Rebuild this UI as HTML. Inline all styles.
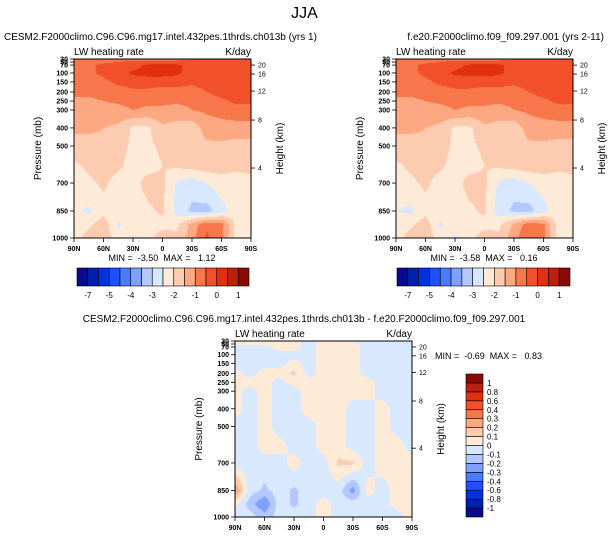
<!DOCTYPE html>
<html><head><meta charset="utf-8">
<style>
html,body{margin:0;padding:0;background:#fff;}
#wrap{position:relative;width:609px;height:538px;overflow:hidden;font-family:"Liberation Sans",sans-serif;}
canvas{position:absolute;}
svg{position:absolute;left:0;top:0;}
text{font-family:"Liberation Sans",sans-serif;fill:#000;white-space:pre;}
</style></head>
<body>
<div id="wrap">
<canvas id="c1" width="177" height="179" style="left:74px;top:59px"></canvas>
<canvas id="c2" width="177" height="179" style="left:396px;top:59px"></canvas>
<canvas id="c3" width="177" height="176" style="left:235px;top:341px"></canvas>
<svg id="svg" width="609" height="538"></svg>
</div>
<script>
const lats = [90,75,60,45,30,15,0,-15,-30,-45,-60,-75,-90];
const levels = [30,50,70,100,150,200,250,300,400,500,600,700,850,925,1000];
const presTicks = [30,50,70,100,150,200,250,300,400,500,700,850,1000];
const latTickLabels = ["90N","60N","30N","0","30S","60S","90S"];
const latTickValues = [90,60,30,0,-30,-60,-90];
const heightTicks = [20,16,12,8,4];
const fieldA = [
[-0.9,-0.9,-0.8,-0.7,-0.6,-0.6,-0.6,-0.6,-0.5,-0.4,-0.3,-0.3,-0.3],
[-0.8,-0.7,-0.6,-0.5,-0.4,-0.4,-0.4,-0.4,-0.4,-0.4,-0.3,-0.3,-0.3],
[-0.7,-0.6,-0.4,-0.3,-0.2,0.1,0.1,0.1,-0.2,-0.3,-0.3,-0.2,-0.2],
[-0.7,-0.6,-0.4,-0.2,0.1,0.2,0.2,0.1,-0.2,-0.3,-0.2,-0.2,-0.2],
[-0.8,-0.7,-0.6,-0.4,-0.3,-0.3,-0.3,-0.3,-0.4,-0.3,-0.2,-0.2,-0.2],
[-0.9,-0.9,-0.8,-0.7,-0.6,-0.6,-0.7,-0.7,-0.7,-0.5,-0.3,-0.3,-0.3],
[-1.1,-1.1,-1.0,-0.9,-0.8,-0.9,-0.9,-0.9,-0.9,-0.8,-0.6,-0.4,-0.4],
[-1.3,-1.3,-1.2,-1.2,-1.0,-1.1,-1.1,-1.2,-1.0,-0.9,-0.8,-0.7,-0.7],
[-1.4,-1.4,-1.5,-1.6,-2.1,-2.1,-1.6,-1.7,-1.8,-1.3,-1.2,-1.2,-1.2],
[-1.7,-1.7,-1.6,-1.8,-2.1,-2.1,-1.9,-1.8,-1.7,-1.6,-1.6,-1.7,-1.7],
[-2.1,-1.9,-1.8,-1.9,-2.2,-2.2,-2.0,-1.9,-1.8,-1.7,-1.8,-1.9,-1.8],
[-2.2,-2.1,-1.9,-2.2,-2.2,-1.8,-1.9,-2.6,-2.8,-2.5,-2.2,-2.2,-2.2],
[-2.4,-2.6,-2.2,-2.2,-2.3,-2.1,-1.9,-2.7,-3.1,-3.2,-2.7,-2.2,-2.2],
[-2.2,-2.1,-1.7,-2.6,-2.2,-2.2,-2.2,-2.1,-1.3,-0.6,-0.8,-2.2,-2.2],
[-2.2,-1.8,-1.7,-2.2,-2.6,-2.2,-1.7,-1.9,-1.2,-0.4,-0.9,-2.2,-2.2]];
const fieldB = [
[-0.9,-0.9,-0.8,-0.7,-0.6,-0.6,-0.6,-0.6,-0.5,-0.4,-0.3,-0.3,-0.3],
[-0.8,-0.7,-0.6,-0.5,-0.4,-0.4,-0.4,-0.4,-0.4,-0.4,-0.3,-0.3,-0.3],
[-0.7,-0.6,-0.4,-0.3,-0.2,0.1,0.1,0.1,-0.2,-0.3,-0.3,-0.2,-0.2],
[-0.7,-0.6,-0.4,-0.2,0.1,0.15,0.15,0.1,-0.2,-0.3,-0.2,-0.2,-0.2],
[-0.8,-0.7,-0.6,-0.4,-0.3,-0.3,-0.3,-0.3,-0.4,-0.3,-0.2,-0.2,-0.2],
[-0.9,-0.9,-0.8,-0.7,-0.6,-0.6,-0.7,-0.7,-0.7,-0.5,-0.3,-0.3,-0.3],
[-1.1,-1.1,-1.0,-0.9,-0.8,-0.9,-0.9,-0.9,-0.9,-0.8,-0.6,-0.4,-0.4],
[-1.3,-1.3,-1.2,-1.2,-1.0,-1.1,-1.1,-1.2,-1.0,-0.9,-0.8,-0.7,-0.7],
[-1.4,-1.4,-1.5,-1.6,-2.1,-2.1,-1.6,-1.7,-1.8,-1.3,-1.2,-1.2,-1.2],
[-1.7,-1.7,-1.6,-1.8,-2.1,-2.1,-1.9,-1.8,-1.7,-1.6,-1.6,-1.7,-1.7],
[-2.1,-1.9,-1.8,-1.9,-2.2,-2.2,-2.0,-1.9,-1.8,-1.7,-1.8,-1.9,-1.8],
[-2.2,-2.1,-1.9,-2.2,-2.2,-1.8,-1.9,-2.6,-2.8,-2.5,-2.2,-2.2,-2.2],
[-2.5,-2.6,-2.2,-2.2,-2.3,-2.1,-1.9,-2.8,-3.1,-3.2,-2.7,-2.2,-2.2],
[-2.2,-2.1,-1.7,-2.6,-2.2,-2.2,-2.2,-2.1,-1.4,-0.7,-0.9,-2.2,-2.2],
[-2.2,-1.8,-1.7,-2.2,-2.6,-2.2,-1.7,-1.9,-1.2,-0.5,-0.9,-2.2,-2.2]];
const fieldDiff = [
[0.05,0.05,0.05,0.05,0.05,-0.05,0.05,0.05,-0.05,-0.05,-0.05,-0.05,-0.05],
[0.05,0.05,0.05,0.05,0.05,-0.05,0.05,0.05,0.05,-0.05,-0.05,-0.05,-0.05],
[-0.05,-0.05,-0.05,0.05,0.05,-0.05,0.05,0.05,0.05,-0.05,-0.05,-0.05,-0.05],
[-0.05,-0.05,-0.05,-0.05,-0.05,-0.05,0.05,0.05,0.05,-0.05,-0.05,-0.05,-0.05],
[-0.05,-0.05,-0.05,-0.05,0.05,-0.05,0.05,0.05,0.05,-0.05,-0.05,-0.05,-0.05],
[0.05,-0.05,0.05,0.05,0.12,-0.05,0.05,0.05,0.05,-0.05,-0.05,-0.05,-0.05],
[0.05,0.05,0.05,-0.05,0.05,0.05,0.05,0.05,0.05,0.05,-0.05,-0.05,-0.05],
[0.05,-0.05,0.05,-0.05,-0.05,0.05,0.05,0.05,0.05,0.05,-0.05,-0.05,-0.05],
[0.05,-0.05,0.05,-0.05,-0.05,0.05,0.05,0.05,-0.05,-0.05,0.05,-0.05,-0.05],
[-0.05,-0.05,0.05,-0.05,-0.05,-0.05,0.05,0.05,-0.05,-0.05,0.05,-0.05,-0.05],
[-0.05,-0.05,0.05,0.05,-0.05,-0.05,0.05,0.05,-0.05,-0.05,0.05,0.05,-0.05],
[-0.05,-0.05,-0.05,-0.05,0.05,-0.05,-0.05,0.12,0.12,-0.05,0.05,0.05,0.05],
[0.3,-0.05,-0.12,-0.05,-0.12,-0.05,-0.05,-0.05,-0.25,0.05,-0.05,0.05,0.05],
[0.05,-0.15,-0.3,-0.05,-0.12,-0.05,0.05,-0.05,-0.05,-0.05,-0.05,0.05,0.05],
[-0.12,-0.05,-0.15,-0.05,-0.05,-0.05,0.05,-0.05,-0.05,-0.05,-0.05,-0.05,0.05]];
const boundsA = [-7,-6,-5,-4.5,-4,-3.5,-3,-2.5,-2,-1.5,-1,-0.5,0,0.5,1];
const barLabelsA = ["-7","-5","-4","-3","-2","-1","0","1"];
const boundsD = [-1,-0.8,-0.6,-0.4,-0.3,-0.2,-0.1,0,0.1,0.2,0.3,0.4,0.6,0.8,1];
const barLabelsD = ["-1","-0.8","-0.6","-0.4","-0.3","-0.2","-0.1","0","0.1","0.2","0.3","0.4","0.6","0.8","1"];
const palette = ["#0a0a8c","#0020b0","#0033e0","#1e50ff","#4a7aff","#7fa0ff","#b3c8ff","#d7e8ff","#fdebd8","#fdcbb0","#fca882","#f7764a","#f2502a","#e03010","#b82010","#8b0a05"];

const presFrac = {30:0,50:0.017,70:0.034,100:0.078,150:0.128,200:0.184,250:0.235,300:0.285,400:0.385,500:0.486,600:0.596,700:0.693,850:0.849,925:0.925,1000:1};
const hFrac = {20:0.034,16:0.084,12:0.179,8:0.341,4:0.609};
function yP(p,h){return presFrac[p]*h;}
function xL(lat,w){return (90-lat)/180*w;}
function colorOf(v,b){let i=0;while(i<b.length&&v>=b[i])i++;return palette[i];}

function drawField(id,field,b){
  const cv=document.getElementById(id),ctx=cv.getContext('2d');
  const W=cv.width,H=cv.height;
  const ly=levels.map(p=>yP(p,H));
  for(let py=0;py<H;py++){
    const yc=py+0.5;let r=0;
    while(r<levels.length-2&&yc>ly[r+1])r++;
    const ty=Math.min(1,Math.max(0,(yc-ly[r])/(ly[r+1]-ly[r])));
    for(let px=0;px<W;px++){
      const fx=(px+0.5)/W*(lats.length-1);
      const c=Math.min(lats.length-2,Math.floor(fx));const tx=fx-c;
      const v=(1-ty)*((1-tx)*field[r][c]+tx*field[r][c+1])+ty*((1-tx)*field[r+1][c]+tx*field[r+1][c+1]);
      ctx.fillStyle=colorOf(v,b);ctx.fillRect(px,py,1,1);
    }
  }
}
drawField('c1',fieldA,boundsA);
drawField('c2',fieldB,boundsA);
drawField('c3',fieldDiff,boundsD);

const svg=document.getElementById('svg');const NS='http://www.w3.org/2000/svg';
function el(tag,attrs,parent){const e=document.createElementNS(NS,tag);for(const k in attrs)e.setAttribute(k,attrs[k]);(parent||svg).appendChild(e);return e;}
function txt(x,y,s,size,anchor,parent){const t=el('text',{x:x,y:y,'font-size':size,'text-anchor':anchor||'start'},parent);t.textContent=s;return t;}

function axes(x0,y0,W,H,name){
  const g=el('g',{});
  
  
  el('rect',{x:x0,y:y0,width:W,height:H,fill:'none',stroke:'#000','stroke-width':1},g);
  presTicks.forEach(p=>{const y=y0+yP(p,H);
    el('line',{x1:x0-4,x2:x0,y1:y,y2:y,stroke:'#000','stroke-width':0.8},g);
    const t=txt(x0-6,y+2.5,String(p),7,'end',g);t.setAttribute('font-weight','bold');});
  latTickValues.forEach((lat,i)=>{const x=x0+xL(lat,W);
    el('line',{x1:x,x2:x,y1:y0+H,y2:y0+H+4,stroke:'#000','stroke-width':0.8},g);
    const t=txt(x,y0+H+13,latTickLabels[i],7,'middle',g);t.setAttribute('font-weight','bold');});
  heightTicks.forEach(hk=>{const y=y0+hFrac[hk]*H;
    el('line',{x1:x0+W,x2:x0+W+4,y1:y,y2:y,stroke:'#000','stroke-width':0.8},g);
    txt(x0+W+7,y+2.5,String(hk),7,'start',g);});
  const yt=txt(0,0,'Pressure (mb)',10,'middle',g);yt.setAttribute('transform',`translate(${x0-33},${y0+H/2}) rotate(-90)`);
  const ht=txt(0,0,'Height (km)',10,'middle',g);ht.setAttribute('transform',`translate(${x0+W+32},${y0+H/2}) rotate(-90)`);
  txt(x0,y0-4,'LW heating rate',10,'start',g);
  txt(x0+W,y0-4,'K/day',10,'end',g);
}
axes(74,59,177,179,'plot-left');
axes(396,59,177,179,'plot-right');
axes(235,341,177,176,'plot-diff');

function hbar(x0,y0,W,H,name){
  const g=el('g',{});
  
  
  const n=palette.length,bw=W/n;
  palette.forEach((c,i)=>el('rect',{x:x0+i*bw,y:y0,width:bw,height:H,fill:c,stroke:'#000','stroke-width':0.6},g));
  barLabelsA.forEach((s,i)=>txt(x0+(2*i+1)*bw,y0+H+12,s,8,'middle',g));
}
hbar(77,268,172,18,'colorbar-left');
hbar(397,268,173,18,'colorbar-right');

(function(){
  const g=el('g',{});
  
  
  const x0=466,y0=374,W=17,H=143,n=palette.length,bh=H/n;
  palette.forEach((c,i)=>el('rect',{x:x0,y:y0+H-(i+1)*bh,width:W,height:bh,fill:c,stroke:'#000','stroke-width':0.6},g));
  barLabelsD.forEach((s,i)=>txt(x0+W+4,y0+H-(i+1)*bh+3,s,8,'start',g));
})();

txt(304.5,18,'JJA',16,'middle');
txt(4,40,'CESM2.F2000climo.C96.C96.mg17.intel.432pes.1thrds.ch013b (yrs 1)',10,'start');
txt(604,40,'f.e20.F2000climo.f09_f09.297.001 (yrs 2-11)',10,'end');
txt(162,261,'MIN =  -3.50  MAX =   1.12',9,'middle');
txt(484,261,'MIN =  -3.58  MAX =   0.16',9,'middle');
txt(304,322,'CESM2.F2000climo.C96.C96.mg17.intel.432pes.1thrds.ch013b - f.e20.F2000climo.f09_f09.297.001',10,'middle');
txt(435,359,'MIN =  -0.69  MAX =   0.83',9,'start');
</script>
</body></html>
